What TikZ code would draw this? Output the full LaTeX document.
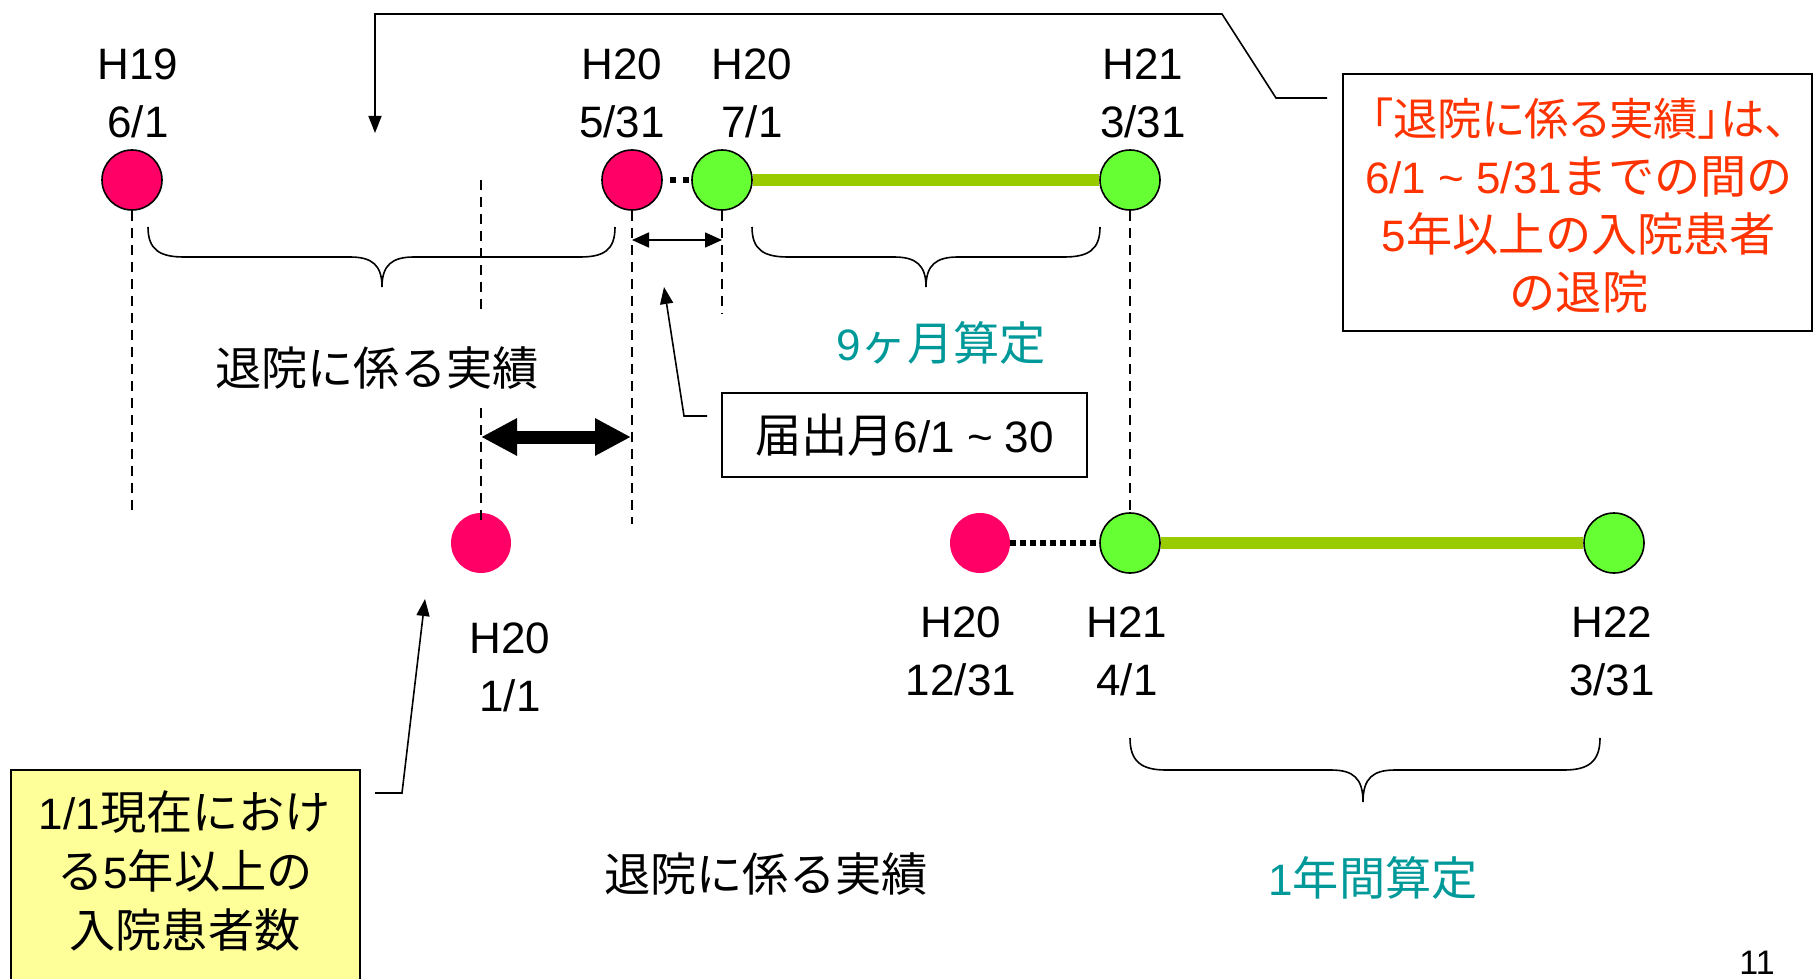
\documentclass[tikz,border=0pt]{standalone}
\usepackage{fontspec}
\setmainfont{Liberation Sans}
\newfontfamily\latf{Liberation Sans}
\newfontfamily\cjk[Scale=1.05]{Noto Sans CJK JP}
\newfontfamily\cjkp[Scale=1.01,RawFeature=+palt]{Noto Sans CJK JP}
\usetikzlibrary{arrows.meta}
\definecolor{pinkc}{HTML}{FF0066}
\definecolor{greenc}{HTML}{66FF33}
\definecolor{barc}{HTML}{99CC00}
\definecolor{tealc}{HTML}{009999}
\definecolor{redc}{HTML}{FF3300}
\definecolor{yellowc}{HTML}{FFFF99}
\tikzset{
  pinkdot/.style={circle, fill=pinkc, draw=black, line width=0.8pt, minimum size=30pt, inner sep=0pt},
  pinkplain/.style={circle, fill=pinkc, minimum size=30pt, inner sep=0pt},
  greendot/.style={circle, fill=greenc, draw=black, line width=0.8pt, minimum size=30pt, inner sep=0pt},
  datelbl/.style={align=center, font=\fontsize{22}{29}\selectfont, inner sep=0pt},
  jtext/.style={font=\fontsize{22}{29}\selectfont\cjk, inner sep=0pt},
  vdash/.style={dash pattern=on 5pt off 3.5pt, line width=0.6pt},
  greenbar/.style={line width=6pt, draw=barc},
  blackdots/.style={line width=3pt, dash pattern=on 3pt off 2pt},
  bracestyle/.style={line width=0.8pt},
  callout/.style={line width=0.8pt, -{Triangle[length=8.5pt,width=6.5pt]}},
  boxstyle/.style={draw, line width=1pt, inner sep=0pt},
}
\begin{document}
\begin{tikzpicture}[x=0.5pt, y=-0.5pt]
\useasboundingbox (0,0) rectangle (1814,979);
\fill[white] (0,0) rectangle (1814,979);

% boxes
\node[boxstyle, minimum width=234.5pt, minimum height=128.5pt] (rbox) at (1577.5,202.5) {};
\node[boxstyle, fill=yellowc, minimum width=174.5pt, minimum height=110pt] (ybox) at (185.5,880) {};
\node[boxstyle, minimum width=182.5pt, minimum height=42pt, font=\fontsize{22}{29}\selectfont] (fbox) at (904.5,435) {{\cjk 届出月}6/1 \textasciitilde\ 30};

% circles
\node[pinkdot] (a1) at (132,180) {};
\node[pinkdot] (a2) at (632,180) {};
\node[greendot] (a3) at (722,180) {};
\node[greendot] (a4) at (1130,180) {};
\node[pinkplain] (b0) at (481,543) {};
\node[pinkplain] (b1) at (980,543) {};
\node[greendot] (b2) at (1130,543) {};
\node[greendot] (b3) at (1614,543) {};

% bars and dotted links
\draw[greenbar] (a3.east) -- (a4.west);
\draw[greenbar] (b2.east) -- (b3.west);
\draw[line width=3pt, dash pattern=on 3pt off 3.5pt, dash phase=3pt] (a2.east) -- (a3.west);
\draw[blackdots] (b1.east) -- (b2.west);

% dashed verticals
\coordinate (v1) at (132,510);
\draw[vdash] (a1.south) -- (v1);
\coordinate (v2a) at (481,180);
\coordinate (v2b) at (481,313);
\coordinate (v2c) at (481,408);
\coordinate (v2d) at (481,524);
\draw[vdash] (v2a) -- (v2b);
\draw[vdash] (v2c) -- (v2d);
\coordinate (v3) at (632,524);
\draw[vdash] (a2.south) -- (v3);
\coordinate (v4) at (722,313);
\draw[vdash] (a3.south) -- (v4);
\draw[vdash] (a4.south) -- (b2.north);

% braces
\draw[bracestyle] (148,227) .. controls (148,250) and (160,257) .. (184,257) -- (350,257) .. controls (372,257) and (382,265) .. (382,287) .. controls (382,265) and (392,257) .. (414,257) -- (580,257) .. controls (604,257) and (615,250) .. (615,227);
\draw[bracestyle] (752,227) .. controls (752,250) and (764,257) .. (788,257) -- (894,257) .. controls (916,257) and (926,265) .. (926,287) .. controls (926,265) and (936,257) .. (958,257) -- (1064,257) .. controls (1088,257) and (1100,250) .. (1100,227);
\draw[bracestyle] (1130,738) .. controls (1130,762) and (1142,770) .. (1166,770) -- (1331,770) .. controls (1353,770) and (1363,778) .. (1363,802) .. controls (1363,778) and (1373,770) .. (1395,770) -- (1564,770) .. controls (1588,770) and (1600,762) .. (1600,738);

% double arrows
\coordinate (s1) at (632,240);
\coordinate (s2) at (722,240);
\draw[line width=0.8pt, {Triangle[length=8.5pt,width=7.5pt]}-{Triangle[length=8.5pt,width=7.5pt]}] (s1) -- (s2);
\coordinate (w1) at (481,437);
\coordinate (w2) at (631,437);
\draw[line width=6.5pt, {Triangle[length=18pt,width=17.5pt]}-{Triangle[length=18pt,width=17.5pt]}] (w1) -- (w2);

% callout connectors
\coordinate (r0) at (1327,98);
\coordinate (r1) at (1276,98);
\coordinate (r2) at (1222,14);
\coordinate (r3) at (375,14);
\coordinate (rt) at (375,133);
\draw[callout] (r0) -- (r1) -- (r2) -- (r3) -- (rt);
\coordinate (f0) at (707,416);
\coordinate (f1) at (684,416);
\coordinate (ft) at (664,287);
\draw[callout] (f0) -- (f1) -- (ft);
\coordinate (y0) at (375,793);
\coordinate (y1) at (402,793);
\coordinate (yt) at (425,599);
\draw[callout] (y0) -- (y1) -- (yt);

% date labels
\node[datelbl] (t1) at (138,93) {H19\\6/1};
\node[datelbl] (t2) at (622,93) {H20\\5/31};
\node[datelbl] (t3) at (752,93) {H20\\7/1};
\node[datelbl] (t4) at (1143,93) {H21\\3/31};
\node[datelbl] (t5) at (510,667) {H20\\1/1};
\node[datelbl] (t6) at (961,651) {H20\\12/31};
\node[datelbl] (t7) at (1127,651) {H21\\4/1};
\node[datelbl] (t8) at (1612,651) {H22\\3/31};

% japanese texts
\node[jtext] (k1) at (377,368) {退院に係る実績};
\node[jtext] (k2) at (766,874) {退院に係る実績};
\node[jtext, text=tealc] (k3) at (941,343) {{\latf 9}ヶ月算定};
\node[jtext, text=tealc] (k4) at (1373,878) {{\latf 1}年間算定};

\node[align=center, text=redc, font=\fontsize{22}{29}\selectfont, inner sep=0pt] (rtext) at (1579,206)
  {{\cjkp 「退院に係る実績」は、}\\6/1 \textasciitilde\ 5/31{\cjk までの間の}\\5{\cjk 年以上の入院患者}\\{\cjk の退院}};
\node[align=center, font=\fontsize{22}{29.5}\selectfont, inner sep=0pt] (ytext) at (185,871)
  {1/1{\cjk 現在におけ}\\{\cjk る}5{\cjk 年以上の}\\{\cjk 入院患者数}};

\node[font=\fontsize{17}{20}\selectfont, anchor=north, inner sep=0pt] (pg) at (1757,951) {11};
\end{tikzpicture}
\end{document}
